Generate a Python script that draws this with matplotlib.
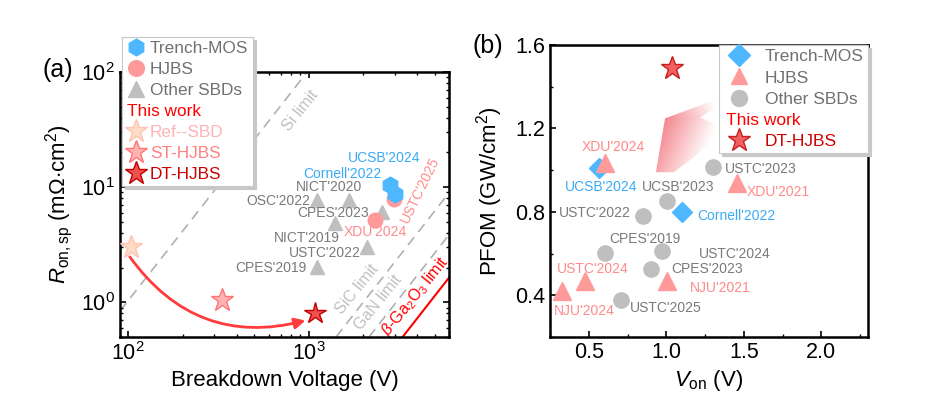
import numpy as np
import matplotlib.pyplot as plt
from matplotlib.lines import Line2D
from matplotlib.patches import FancyArrowPatch, Polygon
from matplotlib.colors import LinearSegmentedColormap
from matplotlib.ticker import MultipleLocator, NullFormatter, LogLocator

plt.rcParams['font.family'] = ['Liberation Sans', 'DejaVu Sans']
plt.rcParams['mathtext.fontset'] = 'custom'
plt.rcParams['mathtext.rm'] = 'Liberation Sans'
plt.rcParams['mathtext.it'] = 'Liberation Sans:italic'
plt.rcParams['mathtext.bf'] = 'Liberation Sans:bold'

# ---- (a) Ron,sp vs breakdown voltage ----
mos_bv = [2825, 3014]
mos_ron = [10.5, 8.8]
hjbs_bv = [2334, 2985]
hjbs_ron = [5.23, 7.94]
sbd_bv = [1112, 1664, 1406, 2548, 2118, 1112]
sbd_ron = [7.68, 7.68, 4.93, 6.09, 3.0, 2.02]
ref_bv, ref_ron = 103.5, 3.04
st_bv, st_ron = 330, 1.05
dt_bv, dt_ron = 1080, 0.80

a_names = ["UCSB'2024", "Cornell'2022", "NICT'2020", "OSC'2022", "CPES'2023",
           "XDU'2024", "NICT'2019", "USTC'2022", "CPES'2019", "USTC'2025"]
a_kind = ['mos', 'mos', 'sbd', 'sbd', 'sbd', 'hjbs', 'sbd', 'sbd', 'sbd', 'hjbs']
a_text_v = [2612, 1538, 1303, 682, 1365, 2350, 980, 1225, 620, 4140]
a_text_r = [17.8, 12.9, 10.1, 7.6, 5.97, 4.09, 3.59, 2.70, 2.0, 9.38]

limit_names = ['Si limit', 'SiC limit', 'GaN limit', r'$\beta$-Ga$_2$O$_3$ limit']
limit_v = [[90, 1000], [1418, 6000], [2160, 6000], [3316, 6000]]
limit_r = [[0.84, 104], [0.5, 8.95], [0.5, 3.86], [0.5, 1.64]]
limit_text_v = [900, 1857, 2426, 3880]
limit_text_r = [45.8, 1.29, 1.0, 1.12]

# arrow from Ref-SBD to DT-HJBS
arrow_start = (102, 2.48)
arrow_end = (960, 0.695)

# ---- (b) PFOM vs Von ----
mos_von = [0.567, 1.104]
mos_pfom = [1.008, 0.799]
hj_von = [0.603, 1.455, 0.33, 0.474, 1.003]
hj_pfom = [1.032, 0.937, 0.42, 0.468, 0.468]
sb_von = [1.298, 1.003, 0.851, 0.608, 0.97, 0.901, 0.711]
sb_pfom = [1.016, 0.852, 0.778, 0.603, 0.611, 0.524, 0.376]
dt_von, dt_pfom = 1.035, 1.492

b_names = ["XDU'2024", "UCSB'2024", "UCSB'2023", "USTC'2023", "XDU'2021",
           "USTC'2022", "Cornell'2022", "CPES'2019", "USTC'2024", "USTC'2024",
           "CPES'2023", "NJU'2021", "NJU'2024", "USTC'2025"]
b_kind = ['hjbs', 'mos', 'sbd', 'sbd', 'hjbs', 'sbd', 'mos', 'sbd', 'sbd', 'hjbs',
          'sbd', 'hjbs', 'hjbs', 'sbd']
b_text_x = [0.657, 0.580, 1.079, 1.606, 1.721, 0.539, 1.451, 0.862, 1.444, 0.523,
            1.263, 1.347, 0.472, 0.998]
b_text_y = [1.111, 0.920, 0.920, 1.005, 0.894, 0.794, 0.778, 0.670, 0.600, 0.524,
            0.524, 0.437, 0.325, 0.341]

# big shaded arrow outline (Von, PFOM)
big_arrow_x = [0.933, 0.992, 1.509, 1.218, 1.399, 1.050]
big_arrow_y = [0.990, 1.248, 1.390, 1.252, 1.190, 0.990]

BLUE = '#4db8ff'
PINK = '#ff9a9a'
GRAY = '#bfbfbf'
text_col = {'mos': '#3aaaf5', 'hjbs': '#ff8a8a', 'sbd': '#7a7a7a'}

fig = plt.figure(figsize=(9.43, 4.18), dpi=100)
ax1 = fig.add_axes([0.1273, 0.1938, 0.3489, 0.634])
ax2 = fig.add_axes([0.5832, 0.1938, 0.3372, 0.6986])

# ===== panel (a) =====
ax1.set_xscale('log')
ax1.set_yscale('log')
ax1.set_xlim(90, 6000)
ax1.set_ylim(0.5, 100)

for i in range(len(limit_names)):
    if i < 3:
        ax1.plot(limit_v[i], limit_r[i], ls=(0, (6, 4)), color='#b0b0b0', lw=1.2, zorder=1)
        ax1.text(limit_text_v[i], limit_text_r[i], limit_names[i], color='#c0c0c0', fontsize=11.5,
                 rotation=51, ha='center', va='center', rotation_mode='anchor', zorder=2)
    else:
        ax1.plot(limit_v[i], limit_r[i], color='#ff0000', lw=1.5, zorder=1)
        ax1.text(limit_text_v[i], limit_text_r[i], limit_names[i], color='#ff0000', fontsize=11.5,
                 rotation=51, ha='center', va='center', rotation_mode='anchor', zorder=2)

ax1.plot(sbd_bv, sbd_ron, ls='none', marker='^', ms=10.5, color=GRAY, zorder=3)
ax1.plot(hjbs_bv, hjbs_ron, ls='none', marker='o', ms=10.5, color=PINK, zorder=3)
ax1.plot(mos_bv, mos_ron, ls='none', marker='h', ms=12, color=BLUE, zorder=4)
ax1.plot(ref_bv, ref_ron, ls='none', marker='*', ms=17, mfc='#fcdcc4', mec='#ffc4b4', mew=1, zorder=5)
ax1.plot(st_bv, st_ron, ls='none', marker='*', ms=17, mfc='#ffb3b3', mec='#ff7575', mew=1, zorder=5)
ax1.plot(dt_bv, dt_ron, ls='none', marker='*', ms=16, mfc='#ef5050', mec='#c00000', mew=1, zorder=5)

for name, kind, x, y in zip(a_names, a_kind, a_text_v, a_text_r):
    if name == "USTC'2025":
        ax1.text(x, y, name, color=text_col[kind], fontsize=10, rotation=64,
                 ha='center', va='center', zorder=6)
    else:
        ax1.text(x, y, name, color=text_col[kind], fontsize=10, ha='center', va='center', zorder=6)

arr = FancyArrowPatch(arrow_start, arrow_end, connectionstyle='arc3,rad=0.34',
                      arrowstyle='-|>', mutation_scale=16, lw=2, color='#ff3b3b',
                      shrinkA=0, shrinkB=0, zorder=4)
ax1.add_patch(arr)

ax1.xaxis.set_minor_locator(LogLocator(base=10, subs=np.arange(2, 10)))
ax1.xaxis.set_minor_formatter(NullFormatter())
ax1.yaxis.set_minor_formatter(NullFormatter())
ax1.tick_params(which='both', direction='in', top=True, right=True, labelsize=15.5)
ax1.tick_params(which='major', length=4, width=1.2)
ax1.tick_params(which='minor', length=2.5, width=1)
for sp in ax1.spines.values():
    sp.set_linewidth(1.8)

ax1.set_xlabel('Breakdown Voltage (V)', fontsize=16)
ax1.set_ylabel(r'$R_{\mathregular{on,sp}}$ (m$\Omega$$\cdot$cm$^2$)', fontsize=16)
ax1.xaxis.set_label_coords(0.5, -0.125)
ax1.yaxis.set_label_coords(-0.137, 0.5)

fs_leg = 12.4
h_a = [Line2D([], [], ls='none', marker='h', ms=12, color=BLUE),
       Line2D([], [], ls='none', marker='o', ms=11.3, color=PINK),
       Line2D([], [], ls='none', marker='^', ms=11.5, color=GRAY),
       Line2D([], [], ls='none'),
       Line2D([], [], ls='none', marker='*', ms=17, mfc='#fcdcc4', mec='#ffc4b4'),
       Line2D([], [], ls='none', marker='*', ms=17, mfc='#ffb3b3', mec='#ff7575'),
       Line2D([], [], ls='none', marker='*', ms=17, mfc='#ef5050', mec='#c00000')]
l_a = ['Trench-MOS', 'HJBS', 'Other SBDs', 'This work', 'Ref--SBD', 'ST-HJBS', 'DT-HJBS']
c_a = ['#707070', '#707070', '#707070', '#ff0000', '#ffb3b3', '#ff8080', '#cc0000']
leg1 = ax1.legend(h_a, l_a, loc='upper left', bbox_to_anchor=(0.1294, 0.9115),
                  bbox_transform=fig.transFigure, borderaxespad=0, fontsize=fs_leg,
                  labelcolor=c_a, handlelength=1.07, handletextpad=0.31, borderpad=0.25,
                  labelspacing=0.34, fancybox=False, framealpha=1,
                  shadow={'color': '#c8c8c8', 'alpha': 1})
leg1.get_frame().set_edgecolor('#c8c8c8')
leg1.get_frame().set_linewidth(0.8)
leg1.set_zorder(10)
shift = (leg1.handlelength + leg1.handletextpad) * fs_leg * fig.dpi / 72
leg1.get_texts()[3].set_x(-shift + 1)

fig.text(0.0615, 0.8325, '(a)', fontsize=18, ha='center', va='center')

# ===== panel (b) =====
ax2.set_xlim(0.25, 2.3)
ax2.set_ylim(0.2, 1.6)

# shaded arrow with gradient fill
gx = np.linspace(0.9, 1.6, 200)
gy = np.linspace(0.95, 1.42, 200)
GX, GY = np.meshgrid(gx, gy)
px = (GX - 0.99) * 154.6
py = (1.25 - GY) * 210
val = np.clip(1 - px / 55 - np.abs(py) / 130, 0, 1)
cmap = LinearSegmentedColormap.from_list('fade', ['#ffffff', '#f4868f'])
poly = Polygon(np.column_stack([big_arrow_x, big_arrow_y]), closed=True,
               facecolor='none', edgecolor='none', transform=ax2.transData)
ax2.add_patch(poly)
im = ax2.imshow(val, extent=[0.9, 1.6, 0.95, 1.42], origin='lower', cmap=cmap,
                vmin=0, vmax=1, aspect='auto', zorder=1, interpolation='bilinear')
im.set_clip_path(poly)

ax2.plot(sb_von, sb_pfom, ls='none', marker='o', ms=11, color=GRAY, zorder=3)
ax2.plot(hj_von, hj_pfom, ls='none', marker='^', ms=12.5, color=PINK, zorder=3)
ax2.plot(mos_von, mos_pfom, ls='none', marker='D', ms=10, color=BLUE, zorder=2.5)
ax2.plot(dt_von, dt_pfom, ls='none', marker='*', ms=17, mfc='#f06060', mec='#c81e1e', mew=1, zorder=5)

for name, kind, x, y in zip(b_names, b_kind, b_text_x, b_text_y):
    ax2.text(x, y, name, color=text_col[kind], fontsize=10, ha='center', va='center', zorder=6)

ax2.xaxis.set_major_locator(MultipleLocator(0.5))
ax2.xaxis.set_minor_locator(MultipleLocator(0.25))
ax2.yaxis.set_major_locator(MultipleLocator(0.4))
ax2.yaxis.set_minor_locator(MultipleLocator(0.2))
ax2.xaxis.set_major_formatter(plt.FuncFormatter(lambda v, p: f'{v:.1f}'))
ax2.yaxis.set_major_formatter(plt.FuncFormatter(lambda v, p: f'{v:.1f}'))
ax2.tick_params(which='both', direction='in', labelsize=15.5)
ax2.tick_params(which='major', length=4, width=1.2)
ax2.tick_params(which='minor', length=2.5, width=1)
for sp in ax2.spines.values():
    sp.set_linewidth(1.8)

ax2.set_xlabel(r'$V_{\mathregular{on}}$ (V)', fontsize=16)
ax2.set_ylabel(r'PFOM (GW/cm$^2$)', fontsize=16)
ax2.xaxis.set_label_coords(0.5, -0.105)
ax2.yaxis.set_label_coords(-0.14, 0.5)

fs_leg2 = 12.5
h_b = [Line2D([], [], ls='none', marker='D', ms=11, color=BLUE),
       Line2D([], [], ls='none', marker='^', ms=12, color=PINK),
       Line2D([], [], ls='none', marker='o', ms=11.5, color=GRAY),
       Line2D([], [], ls='none'),
       Line2D([], [], ls='none', marker='*', ms=17, mfc='#f06060', mec='#c81e1e')]
l_b = ['Trench-MOS', 'HJBS', 'Other SBDs', 'This work', 'DT-HJBS']
c_b = ['#707070', '#707070', '#707070', '#ff0000', '#cc0000']
leg2 = ax2.legend(h_b, l_b, loc='upper right', borderaxespad=0, fontsize=fs_leg2,
                  labelcolor=c_b, handlelength=1.8, handletextpad=0.58, borderpad=0.25,
                  labelspacing=0.34, fancybox=False, framealpha=1,
                  shadow={'color': '#c8c8c8', 'alpha': 1})
leg2.get_frame().set_edgecolor('#c8c8c8')
leg2.get_frame().set_linewidth(0.8)
leg2.set_zorder(10)
shift2 = (leg2.handlelength + leg2.handletextpad) * fs_leg2 * fig.dpi / 72
leg2.get_texts()[3].set_x(-shift2 + 3)

fig.text(0.5175, 0.89, '(b)', fontsize=18, ha='center', va='center')

fig.savefig('out.png', dpi=100)
